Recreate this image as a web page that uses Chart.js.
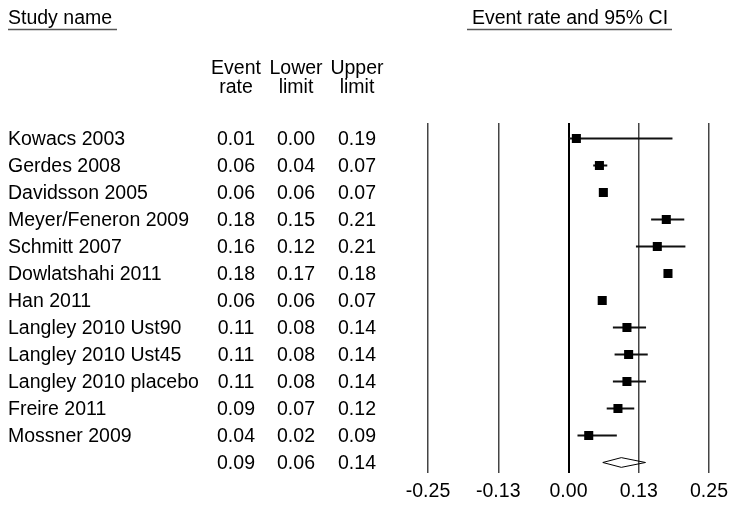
<!DOCTYPE html>
<html>
<head>
<meta charset="utf-8">
<script src="https://cdn.jsdelivr.net/npm/chart.js@4.4.1/dist/chart.umd.min.js"></script>
<style>
  html, body { margin: 0; padding: 0; background: #fff; }
  #wrap { width: 731px; height: 508px; }
</style>
</head>
<body>
<div id="wrap"><canvas id="forestChart" width="731" height="508"></canvas></div>
<script>
// ---------------- DATA ----------------
const studies = [
  "Kowacs 2003", "Gerdes 2008", "Davidsson 2005", "Meyer/Feneron 2009",
  "Schmitt 2007", "Dowlatshahi 2011", "Han 2011", "Langley 2010 Ust90",
  "Langley 2010 Ust45", "Langley 2010 placebo", "Freire 2011", "Mossner 2009"
];
// printed table values
const rateText  = ["0.01", "0.06", "0.06", "0.18", "0.16", "0.18", "0.06", "0.11", "0.11", "0.11", "0.09", "0.04"];
const lowerText = ["0.00", "0.04", "0.06", "0.15", "0.12", "0.17", "0.06", "0.08", "0.08", "0.08", "0.07", "0.02"];
const upperText = ["0.19", "0.07", "0.07", "0.21", "0.21", "0.18", "0.07", "0.14", "0.14", "0.14", "0.12", "0.09"];
const summaryText = ["0.09", "0.06", "0.14"];

// plotted values
const rate  = [0.014, 0.055, 0.062, 0.174, 0.158, 0.177, 0.060, 0.104, 0.107, 0.104, 0.088, 0.036];
const lower = [0.000, 0.044, 0.060, 0.147, 0.120, 0.172, 0.058, 0.079, 0.082, 0.079, 0.068, 0.016];
const upper = [0.185, 0.069, 0.066, 0.206, 0.208, 0.182, 0.066, 0.138, 0.141, 0.138, 0.117, 0.086];
const summary = [0.094, 0.061, 0.137];

const tickValues = [-0.25, -0.125, 0, 0.125, 0.25];
const tickLabels = ["-0.25", "-0.13", "0.00", "0.13", "0.25"];

document.addEventListener("DOMContentLoaded", () => {
  initializeChart();
});

// ---------------- CHART ----------------
function initializeChart() {
  const FONT = "Liberation Sans, Arial, sans-serif";
  const SIZE = 19.5;

  const points = rate.map((v, i) => ({ x: v, y: i }));
  const ciLines = [];
  lower.forEach((lo, i) => {
    ciLines.push({ x: lo, y: i }, { x: upper[i], y: i }, { x: upper[i], y: null });
  });
  const sumRow = studies.length;
  const dh = 0.18;
  const diamond = [
    { x: summary[1], y: sumRow },
    { x: summary[0], y: sumRow - dh },
    { x: summary[2], y: sumRow },
    { x: summary[0], y: sumRow + dh },
    { x: summary[1], y: sumRow }
  ];

  // table text + underlined headers
  const tablePlugin = {
    id: "tableText",
    afterDraw(chart) {
      const ctx = chart.ctx;
      const y = chart.scales.y;
      const cols = [236, 296, 357];
      ctx.save();
      ctx.fillStyle = "#000";
      ctx.font = SIZE + "px " + FONT;
      ctx.textBaseline = "alphabetic";

      ctx.textAlign = "left";
      ctx.fillText("Study name", 8, 24);
      ctx.textAlign = "center";
      ctx.fillText("Event rate and 95% CI", 570, 24);
      ctx.strokeStyle = "#555";
      ctx.lineWidth = 1.5;
      ctx.beginPath();
      ctx.moveTo(8, 29.5); ctx.lineTo(117, 29.5);
      ctx.moveTo(467, 29.5); ctx.lineTo(672, 29.5);
      ctx.stroke();

      const head1 = ["Event", "Lower", "Upper"];
      const head2 = ["rate", "limit", "limit"];
      cols.forEach((cx, k) => {
        ctx.fillText(head1[k], cx, 74);
        ctx.fillText(head2[k], cx, 93);
      });

      studies.forEach((name, i) => {
        const py = y.getPixelForValue(i) + 6.5;
        ctx.textAlign = "left";
        ctx.fillText(name, 8, py);
        ctx.textAlign = "center";
        ctx.fillText(rateText[i], cols[0], py);
        ctx.fillText(lowerText[i], cols[1], py);
        ctx.fillText(upperText[i], cols[2], py);
      });
      const sy = y.getPixelForValue(sumRow) + 6.5;
      summaryText.forEach((t, k) => ctx.fillText(t, cols[k], sy));
      ctx.restore();
    }
  };

  const ctx = document.getElementById("forestChart").getContext("2d");
  new Chart(ctx, {
    type: "scatter",
    data: {
      datasets: [
        {
          type: "line",
          data: ciLines,
          borderColor: "#111",
          borderWidth: 1.8,
          pointRadius: 0,
          spanGaps: false,
          fill: false,
          order: 2
        },
        {
          data: points,
          pointStyle: "rect",
          pointRadius: 6.4,
          backgroundColor: "#000",
          borderColor: "#000",
          borderWidth: 0,
          order: 1
        },
        {
          type: "line",
          data: diamond,
          borderColor: "#000",
          borderWidth: 1,
          backgroundColor: "#fff",
          pointRadius: 0,
          fill: false,
          tension: 0,
          order: 0
        }
      ]
    },
    options: {
      responsive: false,
      animation: false,
      events: [],
      layout: { padding: { left: 428, right: 22, top: 123, bottom: 0 } },
      plugins: {
        legend: { display: false },
        tooltip: { enabled: false }
      },
      scales: {
        x: {
          type: "linear",
          min: -0.25,
          max: 0.25,
          afterBuildTicks: s => { s.ticks = tickValues.map(v => ({ value: v })); },
          afterFit: s => { s.height = 35; s.paddingLeft = 0; s.paddingRight = 0; },
          border: { display: false },
          grid: {
            drawTicks: false,
            color: c => (c.tick && c.tick.value === 0 ? "#000" : "#444"),
            lineWidth: c => (c.tick && c.tick.value === 0 ? 2 : 1.5)
          },
          ticks: {
            padding: 7,
            color: "#000",
            font: { family: FONT, size: SIZE },
            callback: (v, i) => tickLabels[i]
          }
        },
        y: {
          type: "linear",
          reverse: true,
          min: -0.574,
          max: 12.389,
          display: false
        }
      }
    },
    plugins: [tablePlugin]
  });
}
</script>
</body>
</html>
